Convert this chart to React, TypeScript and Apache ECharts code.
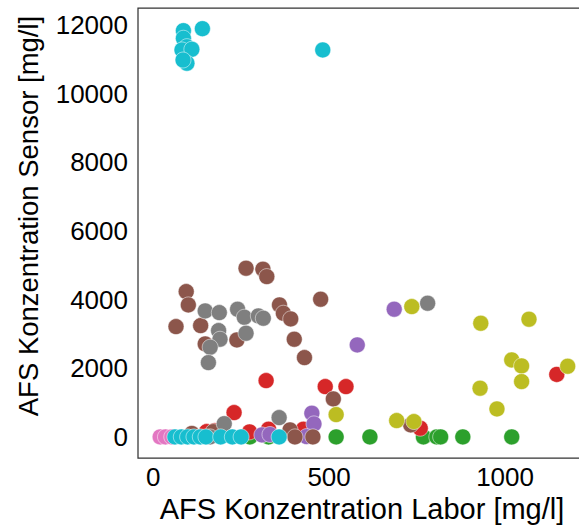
import React, { useEffect, useRef } from "react";
import * as echarts from "echarts";

// [x (lab), y (sensor)] pairs per group
const greenPts: number[][] = [
  [275, 0], [328, 0], [520, 0], [616, 0], [768, 0], [806, 0], [817, 0], [880, 0], [1019, 0],
];
const redPts: number[][] = [
  [321, 1640], [489, 1465], [548, 1465], [230, 708], [1147, 1820], [759, 253],
  [427, 224], [328, 224], [274, 146], [152, 154], [175, 180],
];
const purplePts: number[][] = [
  [685, 3720], [580, 2680], [451, 690], [457, 379], [309, 58], [332, 70], [436, 9],
];
const brownPts: number[][] = [
  [264, 4914], [312, 4885], [323, 4670], [94, 4233], [100, 3845], [359, 3845],
  [370, 3603], [391, 3437], [476, 4011], [65, 3213], [135, 3242], [148, 2709],
  [238, 2825], [401, 2845], [430, 2310], [512, 1107], [732, 350], [389, 204],
  [403, 0], [454, 0], [171, 154], [110, 100],
];
const pinkPts: number[][] = [
  [20, 0], [35, 0], [53, 0],
];
const grayPts: number[][] = [
  [148, 3670], [188, 3621], [240, 3719], [259, 3486], [299, 3524], [313, 3457],
  [186, 3097], [190, 2845], [264, 3020], [162, 2613], [157, 2164], [780, 3894],
  [202, 385], [358, 562], [162, 0],
];
const olivePts: number[][] = [
  [735, 3796], [931, 3311], [1068, 3428], [1019, 2243], [1047, 2068], [1178, 2058],
  [1047, 1611], [929, 1418], [977, 815], [520, 650], [692, 475], [741, 446],
];
const cyanPts: number[][] = [
  [86, 11835], [140, 11893], [86, 11614], [96, 11369], [82, 11273], [110, 11293],
  [96, 10886], [85, 10980], [482, 11273],
  [62, 0], [80, 0], [98, 0], [116, 0], [134, 0], [150, 0], [192, 0], [225, 0], [250, 0], [358, 0],
];

const groups = [
  { name: "g3", color: "#2ca02c", data: greenPts },
  { name: "g4", color: "#d62728", data: redPts },
  { name: "g5", color: "#9467bd", data: purplePts },
  { name: "g6", color: "#8c564b", data: brownPts },
  { name: "g7", color: "#e377c2", data: pinkPts },
  { name: "g8", color: "#7f7f7f", data: grayPts },
  { name: "g9", color: "#bcbd22", data: olivePts },
  { name: "g10", color: "#17becf", data: cyanPts },
];

const xTicks = [0, 500, 1000];
const yTicks = [0, 2000, 4000, 6000, 8000, 10000, 12000];

const FONT = "'Liberation Sans', Arial, sans-serif";

export default function App() {
  const ref = useRef<HTMLDivElement>(null);
  useEffect(() => {
    if (!ref.current) return;
    const chart = echarts.init(ref.current, null, { renderer: "svg" });
    chart.setOption({
      animation: false,
      backgroundColor: "#fff",
      grid: {
        left: 138,
        top: 8,
        width: 448,
        height: 450,
        show: true,
        borderColor: "#333",
        borderWidth: 1.25,
        backgroundColor: "#fff",
      },
      xAxis: {
        type: "value",
        min: -43,
        max: 1230,
        axisLine: { show: false },
        axisTick: { show: false },
        splitLine: { show: false },
        axisLabel: {
          customValues: xTicks,
          formatter: (v: number) => String(v),
          fontSize: 26,
          color: "#000",
          fontFamily: FONT,
          margin: 6,
        },
        name: "AFS Konzentration Labor [mg/l]",
        nameLocation: "middle",
        nameGap: 36,
        nameTextStyle: { fontSize: 29, color: "#000", fontFamily: FONT },
      },
      yAxis: {
        type: "value",
        min: -615,
        max: 12495,
        axisLine: { show: false },
        axisTick: { show: false },
        splitLine: { show: false },
        axisLabel: {
          customValues: yTicks,
          formatter: (v: number) => String(v),
          fontSize: 26,
          color: "#000",
          fontFamily: FONT,
          margin: 10,
        },
        name: "AFS Konzentration Sensor [mg/l]",
        nameLocation: "middle",
        nameGap: 96,
        nameTextStyle: {
          fontSize: 27.5,
          color: "#000",
          fontFamily: FONT,
          padding: [0, 0, 0, 34],
        },
      },
      series: groups.map((g) => ({
        type: "scatter",
        name: g.name,
        data: g.data,
        symbolSize: 16,
        itemStyle: { color: g.color, borderColor: "#fff", borderWidth: 0.5, opacity: 1 },
        emphasis: { disabled: true },
      })),
    });
    return () => chart.dispose();
  }, []);
  return (
    <div
      ref={ref}
      style={{ position: "fixed", left: 0, top: 0, width: 600, height: 530 }}
    />
  );
}
